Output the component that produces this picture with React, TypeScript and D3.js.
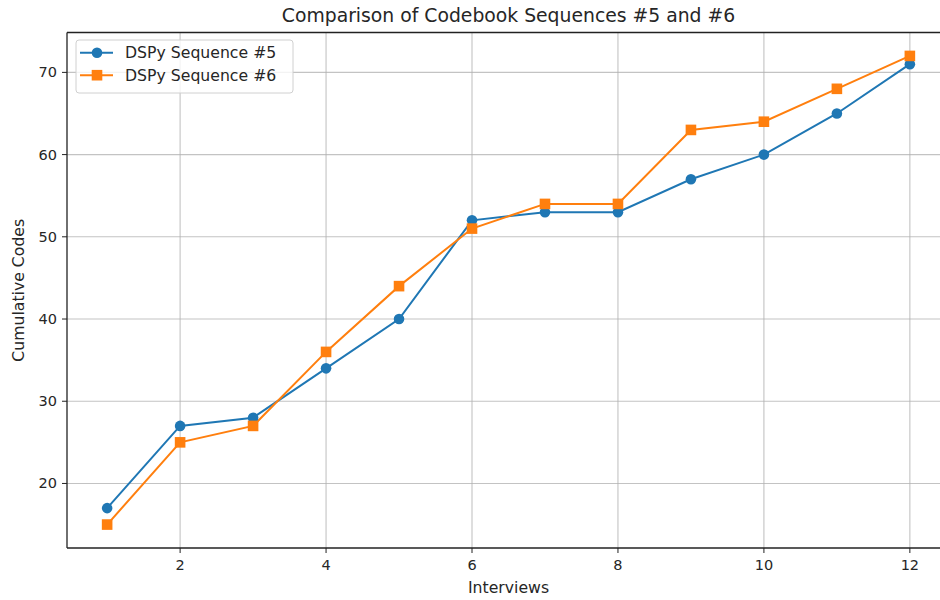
import React from "react";
import * as d3 from "d3";

const interviews = [1, 2, 3, 4, 5, 6, 7, 8, 9, 10, 11, 12];
const seq5 = [17, 27, 28, 34, 40, 52, 53, 53, 57, 60, 65, 71];
const seq6 = [15, 25, 27, 36, 44, 51, 54, 54, 63, 64, 68, 72];
const xTicks = [2, 4, 6, 8, 10, 12];
const yTicks = [20, 30, 40, 50, 60, 70];
const seriesNames = ["DSPy Sequence #5", "DSPy Sequence #6"];
const colors = ["#1f77b4", "#ff7f0e"];

const W = 940;
const H = 600;
const left = 67;
const right = 950;
const top = 32.5;
const bottom = 548;
const FONT = "'DejaVu Sans', sans-serif";

export default function App() {
  const x = d3.scaleLinear().domain([0.45, 12.55]).range([left, right]);
  const y = d3.scaleLinear().domain([12.15, 74.85]).range([bottom, top]);
  const line = d3
    .line<number>()
    .x((_, i) => x(interviews[i]))
    .y((d) => y(d));
  const series = [seq5, seq6];

  return (
    <svg
      width={W}
      height={H}
      style={{ position: "absolute", left: 0, top: 0, background: "#fff" }}
      fontFamily={FONT}
    >
      <rect x={0} y={0} width={W} height={H} fill="#fff" />
      {/* grid */}
      {xTicks.map((t) => (
        <line key={"gx" + t} x1={x(t)} x2={x(t)} y1={top} y2={bottom} stroke="#b0b0b0" strokeWidth={1.1} opacity={0.75} />
      ))}
      {yTicks.map((t) => (
        <line key={"gy" + t} x1={left} x2={right} y1={y(t)} y2={y(t)} stroke="#b0b0b0" strokeWidth={1.1} opacity={0.75} />
      ))}
      {/* lines */}
      {series.map((s, k) => (
        <path key={"l" + k} d={line(s) || ""} fill="none" stroke={colors[k]} strokeWidth={2} />
      ))}
      {/* markers */}
      {seq5.map((v, i) => (
        <circle key={"c" + i} cx={x(interviews[i])} cy={y(v)} r={5.3} fill={colors[0]} />
      ))}
      {seq6.map((v, i) => (
        <rect key={"s" + i} x={x(interviews[i]) - 5.3} y={y(v) - 5.3} width={10.6} height={10.6} fill={colors[1]} />
      ))}
      {/* spines */}
      <line x1={left} x2={left} y1={top} y2={bottom} stroke="#222" strokeWidth={1.3} />
      <line x1={left} x2={right} y1={bottom} y2={bottom} stroke="#222" strokeWidth={1.3} />
      <line x1={left} x2={right} y1={top} y2={top} stroke="#222" strokeWidth={1.3} />
      {/* x ticks */}
      {xTicks.map((t) => (
        <g key={"xt" + t}>
          <line x1={x(t)} x2={x(t)} y1={bottom} y2={bottom + 5} stroke="#222" strokeWidth={1} />
          <text x={x(t)} y={bottom + 22} textAnchor="middle" fontSize={14.5} fill="#262626">
            {t}
          </text>
        </g>
      ))}
      {/* y ticks */}
      {yTicks.map((t) => (
        <g key={"yt" + t}>
          <line x1={left - 5} x2={left} y1={y(t)} y2={y(t)} stroke="#222" strokeWidth={1} />
          <text x={left - 10} y={y(t) + 5} textAnchor="end" fontSize={14.5} fill="#262626">
            {t}
          </text>
        </g>
      ))}
      {/* labels */}
      <text x={(left + right) / 2} y={593} textAnchor="middle" fontSize={15.7} fill="#262626">
        Interviews
      </text>
      <text
        transform={`translate(24,${(top + bottom) / 2}) rotate(-90)`}
        textAnchor="middle"
        fontSize={15.7}
        fill="#262626"
      >
        Cumulative Codes
      </text>
      <text x={(left + right) / 2} y={22} textAnchor="middle" fontSize={18.8} fill="#262626">
        Comparison of Codebook Sequences #5 and #6
      </text>
      {/* legend */}
      <rect x={76} y={40} width={217} height={53} rx={3} fill="#fff" fillOpacity={0.8} stroke="#d0d0d0" strokeWidth={1} />
      {seriesNames.map((n, k) => {
        const ly = 52.7 + k * 22.5;
        return (
          <g key={"lg" + k}>
            <line x1={80} x2={113} y1={ly} y2={ly} stroke={colors[k]} strokeWidth={2} />
            {k === 0 ? (
              <circle cx={97} cy={ly} r={5.3} fill={colors[0]} />
            ) : (
              <rect x={91.7} y={ly - 5.3} width={10.6} height={10.6} fill={colors[1]} />
            )}
            <text x={125} y={ly + 5.5} fontSize={15.7} fill="#262626">
              {n}
            </text>
          </g>
        );
      })}
    </svg>
  );
}
